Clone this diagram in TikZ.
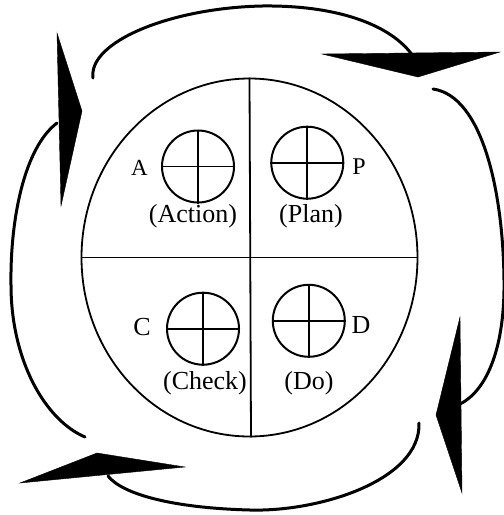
\documentclass[tikz,border=0pt]{standalone}
\usepackage{fontspec}
\setmainfont{Liberation Serif}
\usetikzlibrary{shapes.geometric}
\begin{document}
\begin{tikzpicture}[x=1pt,y=-1pt,
  arc/.style={line width=3pt,line cap=round},
  head/.style={fill=black,draw=black,line width=0.4pt,line join=miter},
  quad/.style={circle,draw,line width=2pt,minimum size=72pt,inner sep=0pt},
  cross/.style={line width=1.8pt},
  letter/.style={inner sep=0pt,font=\fontsize{26}{28}\selectfont},
  label/.style={inner sep=0pt,font=\fontsize{26}{28}\selectfont}]
\useasboundingbox (0,0) rectangle (504,515);
% main circle
\node[ellipse,draw,line width=1.8pt,minimum width=336pt,minimum height=358pt,inner sep=0pt] (main) at (249.5,257.5) {};
\draw[line width=1.8pt] (main.north) -- ([xshift=1.5pt]main.south);
\draw[line width=1.8pt] (main.west) -- (main.east);
% small circles
\node[quad] (qa) at (198,166.5) {};
\node[quad] (qp) at (307.3,162.7) {};
\node[quad] (qc) at (203,328.7) {};
\node[quad] (qd) at (308.8,320.8) {};
\foreach \q in {qa,qp,qc,qd}{
  \draw[cross] (\q.north) -- (\q.south);
  \draw[cross] (\q.west) -- (\q.east);
}
% letters
\node[letter,font=\fontsize{23}{25}\selectfont] (la) at (139.5,168) {A};
\node[letter,font=\fontsize{24}{26}\selectfont] (lp) at (359,167) {P};
\node[letter] (lc) at (142,327) {C};
\node[letter] (ld) at (361,325) {D};
\node[label] (tA) at (193,216) {(Action)};
\node[label] (tP) at (311,216) {(Plan)};
\node[label] (tC) at (205,383) {(Check)};
\node[label] (tD) at (309,383) {(Do)};
% outer arcs
\coordinate (t1) at (93,78);  \coordinate (t2) at (413,56);
\coordinate (r1) at (433,89); \coordinate (r2) at (460,404);
\coordinate (b1) at (419,423); \coordinate (b2) at (108,476);
\coordinate (l1) at (57,123); \coordinate (l2) at (85,437);
\draw[arc] (t1) .. controls (88,42) and (170,8) .. (262,6) .. controls (340,5) and (392,26) .. (t2);
\draw[arc] (r1) .. controls (482,96) and (503,190) .. (504,280) .. controls (505,345) and (488,390) .. (r2);
\draw[arc] (b1) .. controls (421,480) and (320,512) .. (250,510) .. controls (172,508) and (122,494) .. (b2);
\draw[arc] (l1) .. controls (24,148) and (10,220) .. (11,285) .. controls (11,360) and (45,420) .. (l2);
% arrowheads
\fill[head] (322,54) -- (500,52) -- (418,77) -- cycle;
\fill[head] (460,317) -- (462,493) -- (436,415) -- cycle;
\fill[head] (20,483) -- (97,453) -- (185,467) -- cycle;
\fill[head] (57,33) -- (82,111) -- (61,206) -- cycle;
\end{tikzpicture}
\end{document}
